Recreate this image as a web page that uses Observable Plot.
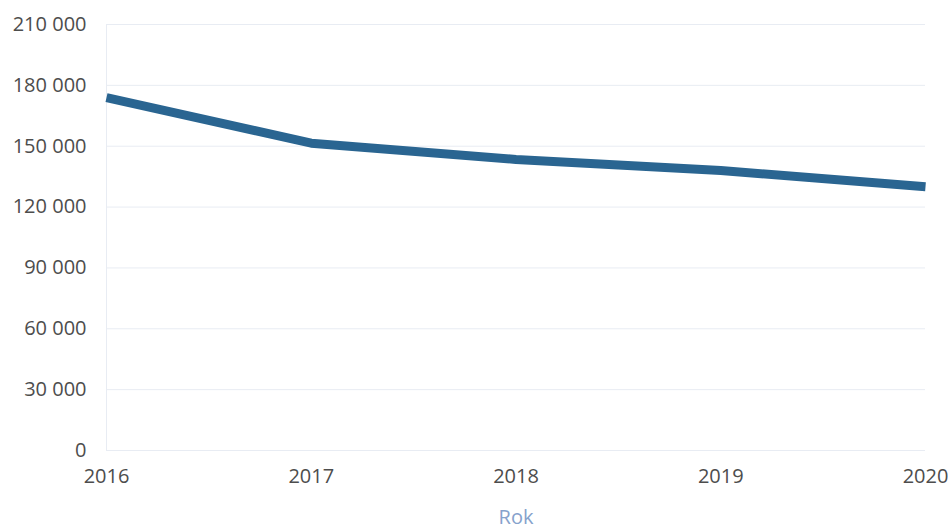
<!DOCTYPE html>
<html>
<head>
<meta charset="utf-8">
<script src="https://cdn.jsdelivr.net/npm/d3@7"></script>
<script src="https://cdn.jsdelivr.net/npm/@observablehq/plot@0.6"></script>
<style>
  html, body { margin: 0; padding: 0; background: #fff; }
  #chart { width: 948px; height: 531px; }
  svg { font-family: "Open Sans", sans-serif; }
</style>
</head>
<body>
<div id="chart"></div>
<script>
const years = [2016, 2017, 2018, 2019, 2020];
const values = [174000, 151500, 143500, 138000, 130000];
const yTicks = [0, 30000, 60000, 90000, 120000, 150000, 180000, 210000];
const xLabel = "Rok";

const data = years.map((y, i) => ({year: y, value: values[i]}));
const fmt = v => d3.format(",")(v).replace(/,/g, " ");

const chart = Plot.plot({
  width: 948,
  height: 531,
  marginLeft: 106,
  marginRight: 23,
  marginTop: 24,
  marginBottom: 81,
  style: {fontFamily: "'Open Sans', sans-serif", fontSize: "20px", color: "#4d4d4d", background: "#fff"},
  x: {domain: [2016, 2020], ticks: years, tickFormat: d => String(d), label: null},
  y: {domain: [0, 210000], ticks: yTicks, label: null},
  marks: [
    Plot.gridY(yTicks, {stroke: "#e8ecf3", strokeOpacity: 1, strokeWidth: 1}),
    Plot.ruleX([2016], {stroke: "#e8ecf3", strokeWidth: 1}),
    Plot.axisY({ticks: yTicks, tickSize: 0, tickPadding: 20, tickFormat: fmt, fill: "#4d4d4d", fontSize: 20, label: null}),
    Plot.axisX({ticks: years, tickSize: 0, tickPadding: 18, tickFormat: d => String(d), fill: "#4d4d4d", fontSize: 20, label: null}),
    Plot.line(data, {x: "year", y: "value", stroke: "#2a6591", strokeWidth: 9, strokeLinejoin: "round", strokeLinecap: "butt"}),
    Plot.text([xLabel], {frameAnchor: "bottom", dy: 73, text: d => d, fill: "#86a2cc", fontSize: 20})
  ]
});
document.getElementById("chart").appendChild(chart);
</script>
</body>
</html>
